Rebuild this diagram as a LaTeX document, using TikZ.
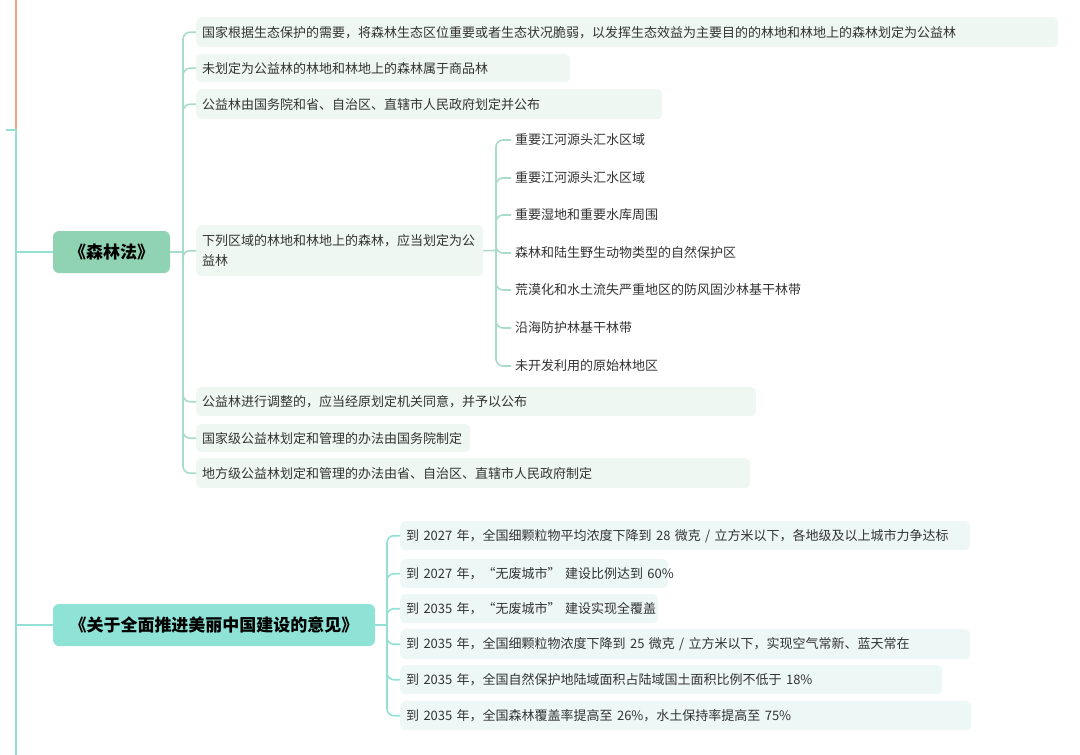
\documentclass[tikz,border=0pt]{standalone}
\usepackage{fontspec}
\setmainfont{Noto Sans CJK SC}
\definecolor{mint}{HTML}{8FD3B3}
\definecolor{teal2}{HTML}{8EE2D6}
\definecolor{lmint}{HTML}{A9DCC8}
\definecolor{lteal}{HTML}{95E0D6}
\definecolor{leaf}{HTML}{EEF7F2}
\definecolor{leaf2}{HTML}{EDF8F6}
\definecolor{txt}{HTML}{333333}
\definecolor{orng}{HTML}{F2A07E}
\tikzset{
  root/.style={rounded corners=6pt, font=\fontsize{17}{19}\selectfont\bfseries, text=black, minimum height=42pt, inner sep=0pt},
  leafbox/.style={rounded corners=5pt, fill=#1, anchor=north west, font=\fontsize{13}{20}\selectfont, text=txt, align=left, inner xsep=6pt, inner ysep=0pt},
  plain/.style={anchor=west, font=\fontsize{13}{16}\selectfont, text=txt, inner sep=0pt},
  lk/.style={draw=#1, line width=1.6pt, rounded corners=7pt},
}
\begin{document}
\begin{tikzpicture}[x=1pt,y=-1pt]
\useasboundingbox (0,0) rectangle (1080,755);
% trunk
\coordinate (o1) at (16,0); \coordinate (o2) at (16,130);
\coordinate (t1) at (6,130); \coordinate (t2) at (16,755);
\draw[orng, line width=1.6pt] (o1) -- (o2);
\draw[lteal, line width=1.6pt] (t1) -- (o2) -- (t2);
% roots
\node[root, fill=mint, minimum width=117pt] (A) at (111.5,252) {《森林法》};
\node[root, fill=teal2, minimum width=322pt] (B) at (214,625) {《关于全面推进美丽中国建设的意见》};
\draw[lteal, line width=1.6pt] (16,252) -- (A.west);
\draw[lteal, line width=1.6pt] (16,625) -- (B.west);
% A children
\node[leafbox=leaf, text width=850pt, minimum height=30pt] (a1) at (196,17) {国家根据生态保护的需要，将森林生态区位重要或者生态状况脆弱，以发挥生态效益为主要目的的林地和林地上的森林划定为公益林};
\node[leafbox=leaf, text width=362pt, minimum height=28pt] (a2) at (196,54) {未划定为公益林的林地和林地上的森林属于商品林};
\node[leafbox=leaf, text width=454pt, minimum height=30pt] (a3) at (196,89) {公益林由国务院和省、自治区、直辖市人民政府划定并公布};
\node[leafbox=leaf, text width=275pt, minimum height=51pt] (a4) at (196,225) {下列区域的林地和林地上的森林，应当划定为公\\益林};
\node[leafbox=leaf, text width=548pt, minimum height=29pt] (a5) at (196,387) {公益林进行调整的，应当经原划定机关同意，并予以公布};
\node[leafbox=leaf, text width=262pt, minimum height=28pt] (a6) at (196,424) {国家级公益林划定和管理的办法由国务院制定};
\node[leafbox=leaf, text width=542pt, minimum height=30pt] (a7) at (196,458) {地方级公益林划定和管理的办法由省、自治区、直辖市人民政府制定};
\coordinate (ja) at (183,252);
\draw[lmint, line width=1.6pt] (A.east) -- (ja);
\foreach \c in {a1,a2,a3,a4,a5,a6,a7} \draw[lk=lmint] (ja) |- (\c.west);
% sub children
\node[plain] (s1) at (515,140) {重要江河源头汇水区域};
\node[plain] (s2) at (515,178) {重要江河源头汇水区域};
\node[plain] (s3) at (515,215) {重要湿地和重要水库周围};
\node[plain] (s4) at (515,253) {森林和陆生野生动物类型的自然保护区};
\node[plain] (s5) at (515,290) {荒漠化和水土流失严重地区的防风固沙林基干林带};
\node[plain] (s6) at (515,328) {沿海防护林基干林带};
\node[plain] (s7) at (515,366) {未开发利用的原始林地区};
\coordinate (js) at (496,250.5);
\draw[lmint, line width=1.6pt] (a4.east) -- (js);
\foreach \c in {s1,s2,s3,s4,s5,s6,s7} \draw[lk=lmint] (js) |- ([xshift=-4pt]\c.west);
% B children
\node[leafbox=leaf2, text width=558pt, minimum height=29pt] (b1) at (400,521) {到 2027 年，全国细颗粒物平均浓度下降到 28 微克 / 立方米以下，各地级及以上城市力争达标};
\node[leafbox=leaf2, text width=256pt, minimum height=29pt] (b2) at (400,559) {\mbox{到 2027 年，“无废城市” 建设比例达到 60\%}};
\node[leafbox=leaf2, text width=246pt, minimum height=29pt] (b3) at (400,594) {\mbox{到 2035 年，“无废城市” 建设实现全覆盖}};
\node[leafbox=leaf2, text width=558pt, minimum height=30pt] (b4) at (400,629) {到 2035 年，全国细颗粒物浓度下降到 25 微克 / 立方米以下，实现空气常新、蓝天常在};
\node[leafbox=leaf2, text width=530pt, minimum height=29pt] (b5) at (400,665) {到 2035 年，全国自然保护地陆域面积占陆域国土面积比例不低于 18\%};
\node[leafbox=leaf2, text width=559pt, minimum height=29pt] (b6) at (400,701) {到 2035 年，全国森林覆盖率提高至 26\%，水土保持率提高至 75\%};
\coordinate (jb) at (387,625);
\draw[lteal, line width=1.6pt] (B.east) -- (jb);
\foreach \c in {b1,b2,b3,b4,b5,b6} \draw[lk=lteal] (jb) |- (\c.west);
\end{tikzpicture}
\end{document}
